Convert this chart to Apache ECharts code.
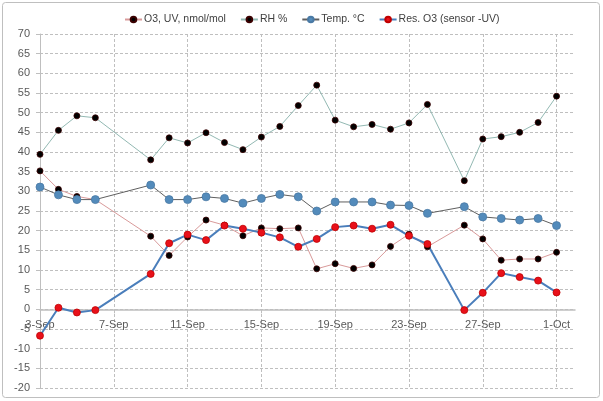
<!DOCTYPE html>
<html>
<head>
<meta charset="utf-8">
<script src="https://cdn.jsdelivr.net/npm/echarts@6/dist/echarts.min.js"></script>
<style>
  html, body { margin: 0; padding: 0; background: #fff; }
  #chart { width: 603px; height: 401px; }
</style>
</head>
<body>
<div id="chart"></div>
<script>
// Measurement dates (daily means)
const dates = ['2013-09-03','2013-09-04','2013-09-05','2013-09-06','2013-09-09','2013-09-10','2013-09-11','2013-09-12','2013-09-13','2013-09-14','2013-09-15','2013-09-16','2013-09-17','2013-09-18','2013-09-19','2013-09-20','2013-09-21','2013-09-22','2013-09-23','2013-09-24','2013-09-26','2013-09-27','2013-09-28','2013-09-29','2013-09-30','2013-10-01'];

const o3UV  = [35.2, 30.5, 28.7, 27.9, 18.6, 13.7, 18.4, 22.7, 21.4, 18.7, 20.7, 20.5, 20.7, 10.3, 11.6, 10.4, 11.3, 16.0, 19.1, 15.9, 21.4, 17.9, 12.5, 12.8, 12.8, 14.5];
const rh    = [39.4, 45.5, 49.2, 48.7, 38.0, 43.6, 42.3, 44.9, 42.4, 40.6, 43.8, 46.5, 51.8, 57.0, 48.1, 46.4, 47.0, 45.8, 47.4, 52.1, 32.7, 43.3, 43.9, 45.0, 47.5, 54.2];
const temp  = [31.1, 29.1, 27.9, 27.9, 31.6, 27.9, 27.9, 28.6, 28.2, 27.0, 28.2, 29.2, 28.6, 25.0, 27.3, 27.3, 27.3, 26.5, 26.4, 24.4, 26.1, 23.5, 23.1, 22.7, 23.1, 21.3];
const resO3 = [-6.7, 0.4, -0.8, -0.2, 9.0, 16.8, 19.0, 17.6, 21.3, 20.5, 19.5, 18.3, 15.9, 17.9, 20.9, 21.3, 20.5, 21.5, 18.7, 16.6, -0.2, 4.2, 9.2, 8.2, 7.3, 4.3];

const seriesNames = ['O3, UV, nmol/mol', 'RH %', 'Temp. °C', 'Res. O3 (sensor -UV)'];

// Axis settings
const startDate = '2013-09-03';
const xMaxDays = 29;      // axis runs to 2-Oct
const xStepDays = 4;
const yMin = -20, yMax = 70, yStep = 5;

const DAY = 86400000;
const t0 = Date.parse(startDate + 'T00:00:00Z');
const dayOf = d => Math.round((Date.parse(d + 'T00:00:00Z') - t0) / DAY);
const months = ['Jan','Feb','Mar','Apr','May','Jun','Jul','Aug','Sep','Oct','Nov','Dec'];
const dayLabel = v => {
  const dt = new Date(t0 + v * DAY);
  return dt.getUTCDate() + '-' + months[dt.getUTCMonth()];
};
const pairs = vals => dates.map((d, i) => [dayOf(d), vals[i]]);

const W = 603, H = 401;
const grid = { left: 40, right: 28, top: 34, bottom: 13 };
// the date axis (line, ticks and labels) sits on the y = 0 line
const plotH = H - grid.top - grid.bottom;
const zeroOffset = -plotH * (0 - yMin) / (yMax - yMin);

const chart = echarts.init(document.getElementById('chart'), null, { renderer: 'canvas' });

const fontFamily = '"Liberation Sans", Arial, sans-serif';

function lineSeries(name, vals, lineColor, lineWidth, dotColor, dotBorder, size) {
  return {
    name: name,
    type: 'line',
    data: pairs(vals),
    symbol: 'circle',
    symbolSize: size,
    showSymbol: true,
    lineStyle: { color: lineColor, width: lineWidth },
    itemStyle: { color: dotColor, borderColor: dotBorder, borderWidth: 0.8 },
    emphasis: { disabled: true },
    animation: false
  };
}

chart.setOption({
  backgroundColor: '#ffffff',
  animation: false,
  textStyle: { fontFamily: fontFamily },
  graphic: [{
    type: 'rect',
    shape: { x: 2.5, y: 2.5, width: 597, height: 395, r: 3 },
    style: { fill: 'none', stroke: '#BFBFBF', lineWidth: 1 },
    silent: true,
    z: -10
  }],
  legend: {
    top: 9,
    left: 119,
    itemWidth: 17,
    itemHeight: 7,
    itemGap: 14,
    textStyle: { fontSize: 10.5, color: '#404040', fontFamily: fontFamily, padding: [0, 0, 0, -3] },
    data: seriesNames
  },
  grid: Object.assign({ containLabel: false, outerBoundsMode: 'none' }, grid),
  xAxis: {
    type: 'value',
    min: 0,
    max: xMaxDays,
    interval: xStepDays,
    offset: zeroOffset,
    axisLine: { onZero: false, lineStyle: { color: '#BFBFBF', width: 1.5 } },
    axisTick: { show: true, length: 4, inside: false, lineStyle: { color: '#BFBFBF' } },
    axisLabel: {
      color: '#595959', fontSize: 11, margin: 10, showMaxLabel: false,
      formatter: v => (v % xStepDays === 0 ? dayLabel(v) : '')
    },
    splitLine: { show: true, showMinLine: false, showMaxLine: false, lineStyle: { color: '#BFBFBF', type: [3, 2], width: 1 } }
  },
  yAxis: {
    type: 'value',
    min: yMin,
    max: yMax,
    interval: yStep,
    axisLine: { show: true, onZero: false, lineStyle: { color: '#BFBFBF', width: 1 } },
    axisTick: { show: true, length: 4, lineStyle: { color: '#BFBFBF' } },
    axisLabel: { color: '#595959', fontSize: 11, margin: 10 },
    splitLine: { show: true, lineStyle: { color: '#BFBFBF', type: [3, 2], width: 1 } }
  },
  series: [
    lineSeries(seriesNames[0], o3UV,  '#D99A9A', 1, '#000000', '#3a0000', 6),
    lineSeries(seriesNames[1], rh,    '#93B9B3', 1, '#000000', '#3a0000', 6),
    lineSeries(seriesNames[2], temp,  '#5F5F5F', 1, '#538BBB', '#4A7AA5', 8),
    lineSeries(seriesNames[3], resO3, '#4A7EBB', 2, '#E8101A', '#C00000', 7)
  ]
});
</script>
</body>
</html>
